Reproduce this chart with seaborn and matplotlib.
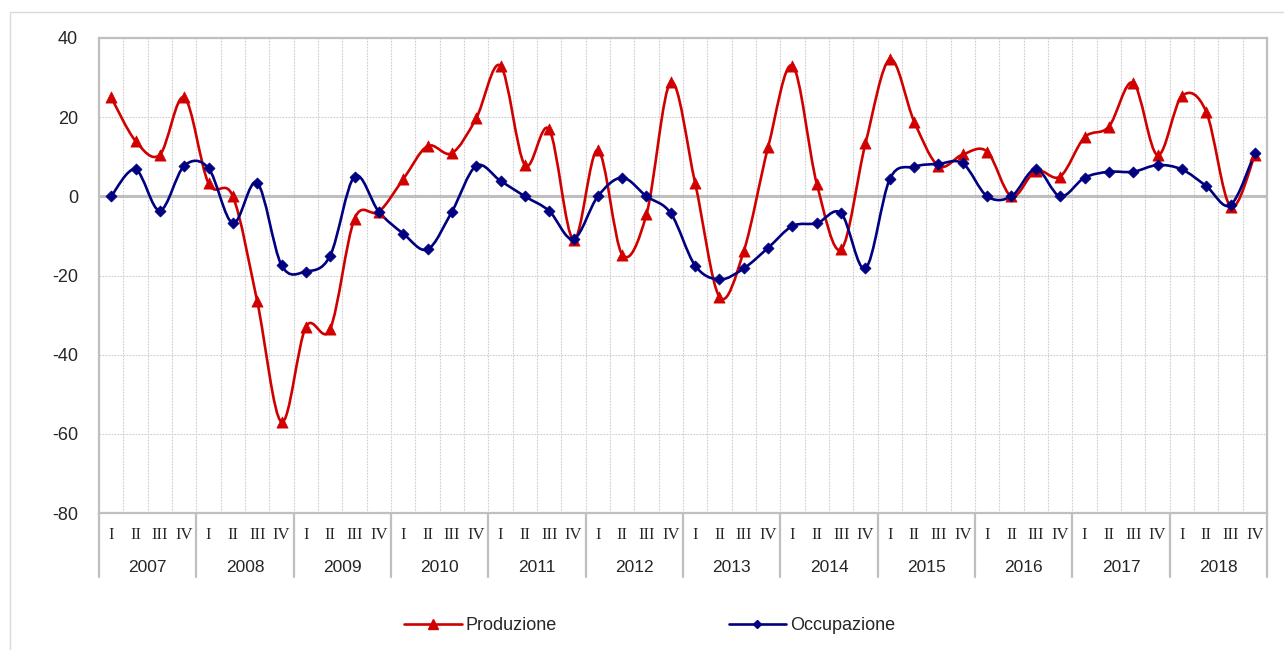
import numpy as np
import pandas as pd
import seaborn as sns
import matplotlib.pyplot as plt
from matplotlib.path import Path
from matplotlib.patches import PathPatch, Rectangle
from matplotlib.lines import Line2D

# dati trimestrali 2007-2018
anni = [str(a) for a in range(2007, 2019)]
trimestri = ['I', 'II', 'III', 'IV']

produzione = [25, 14, 10.5, 25,
              3.3, 0, -26.5, -57,
              -33, -33.5, -5.7, -3.9,
              4.3, 12.7, 10.9, 19.7,
              33, 7.9, 16.9, -11,
              11.7, -14.7, -4.5, 28.8,
              3.3, -25.4, -13.8, 12.5,
              33, 3.1, -13.4, 13.4,
              34.6, 18.9, 7.7, 10.6,
              11.3, 0, 6.5, 5,
              14.9, 17.6, 28.7, 10.4,
              25.3, 21.4, -2.6, 10.4]

occupazione = [0, 6.8, -3.6, 7.7,
               7.1, -6.8, 3.4, -17.4,
               -19, -15, 5, -3.9,
               -9.4, -13.4, -3.9, 7.7,
               3.9, 0, -3.7, -10.8,
               0, 4.7, 0, -4.3,
               -17.5, -21, -18.2, -13,
               -7.5, -6.8, -4.3, -18.2,
               4.4, 7.5, 8.2, 8.3,
               0, 0, 6.9, 0,
               4.7, 6.2, 6.2, 7.9,
               6.8, 2.6, -2.2, 10.9]

ROSSO = '#D00000'
BLU = '#000080'
GRIGIO = '#BFBFBF'

n = len(produzione)
df = pd.DataFrame({
    'pos': list(range(n)) * 2,
    'valore': produzione + occupazione,
    'serie': ['Produzione'] * n + ['Occupazione'] * n,
})


def curva_smussata(xs, ys):
    # curva di Bezier tipo Excel "linea smussata"
    verts = [(xs[0], ys[0])]
    codes = [Path.MOVETO]
    m = len(xs)
    for i in range(m - 1):
        a = i - 1 if i > 0 else i
        d = i + 2 if i + 2 < m else i + 1
        c1 = (xs[i] + (xs[i + 1] - xs[a]) / 6, ys[i] + (ys[i + 1] - ys[a]) / 6)
        c2 = (xs[i + 1] - (xs[d] - xs[i]) / 6, ys[i + 1] - (ys[d] - ys[i]) / 6)
        verts += [c1, c2, (xs[i + 1], ys[i + 1])]
        codes += [Path.CURVE4] * 3
    return Path(verts, codes)


sns.set_style('white')
plt.rcParams['font.family'] = ['Liberation Sans', 'DejaVu Sans']

fig = plt.figure(figsize=(12.84, 6.5), dpi=100)
ax = fig.add_axes([99 / 1284, 1 - 513 / 650, (1267 - 99) / 1284, 475 / 650])

# cornice esterna
fig.patches.append(Rectangle((10 / 1284, -0.05), 1.1, 1 - 12 / 650 + 0.05,
                             transform=fig.transFigure, fill=False,
                             edgecolor='#D9D9D9', linewidth=1.0))

# griglia
for k in range(1, n):
    ax.axvline(k - 0.5, color='#CDCDCD', linestyle=(0, (1.5, 1.2)), linewidth=0.8, zorder=0)
for yv in [20, -20, -40, -60]:
    ax.axhline(yv, color='#CDCDCD', linestyle=(0, (1.5, 1.2)), linewidth=0.8, zorder=0)
ax.axhline(0, color=GRIGIO, linewidth=2.2, zorder=1)

# linee smussate
xs = np.arange(n)
for vals, col in [(produzione, ROSSO), (occupazione, BLU)]:
    ax.add_patch(PathPatch(curva_smussata(xs, vals), facecolor='none',
                           edgecolor=col, linewidth=1.9, zorder=3))

sns.scatterplot(data=df[df.serie == 'Produzione'], x='pos', y='valore',
                marker='^', color=ROSSO, s=65, edgecolor=ROSSO, linewidth=0.5,
                ax=ax, zorder=4, legend=False)
sns.scatterplot(data=df[df.serie == 'Occupazione'], x='pos', y='valore',
                marker='D', color=BLU, s=32, edgecolor=BLU, linewidth=0.5,
                ax=ax, zorder=5, legend=False)

ax.set_xlim(-0.5, n - 0.5)
ax.set_ylim(-80, 40)
ax.set_yticks([40, 20, 0, -20, -40, -60, -80])
ax.set_yticklabels(['40', '20', '0', '-20', '-40', '-60', '-80'], fontsize=13)
ax.tick_params(axis='y', length=0, pad=15)
ax.set_xticks([])
ax.set_xlabel('')
ax.set_ylabel('')
for s in ax.spines.values():
    s.set_color(GRIGIO)
    s.set_linewidth(1.6)

# etichette asse x su due livelli
tr = ax.get_xaxis_transform()
for i in range(n):
    ax.text(i, -0.046, trimestri[i % 4], transform=tr, ha='center', va='center',
            fontsize=12, family=['Liberation Serif', 'DejaVu Serif'])
for j, anno in enumerate(anni):
    ax.text(4 * j + 1.5, -0.114, anno, transform=tr, ha='center', va='center',
            fontsize=12.5)
for j in range(len(anni) + 1):
    ax.plot([4 * j - 0.5] * 2, [0, -0.135], transform=tr, color=GRIGIO,
            linewidth=1.6, clip_on=False)

maniglie = [Line2D([], [], color=ROSSO, marker='^', markersize=7, linewidth=1.9),
            Line2D([], [], color=BLU, marker='D', markersize=4, linewidth=1.9)]
fig.legend(maniglie, ['Produzione', 'Occupazione'], loc='center',
           bbox_to_anchor=(0.506, 0.037), ncol=2, frameon=False, fontsize=13,
           handlelength=3.2, handletextpad=0.2, columnspacing=9.5)

fig.savefig('out.png', dpi=100)
